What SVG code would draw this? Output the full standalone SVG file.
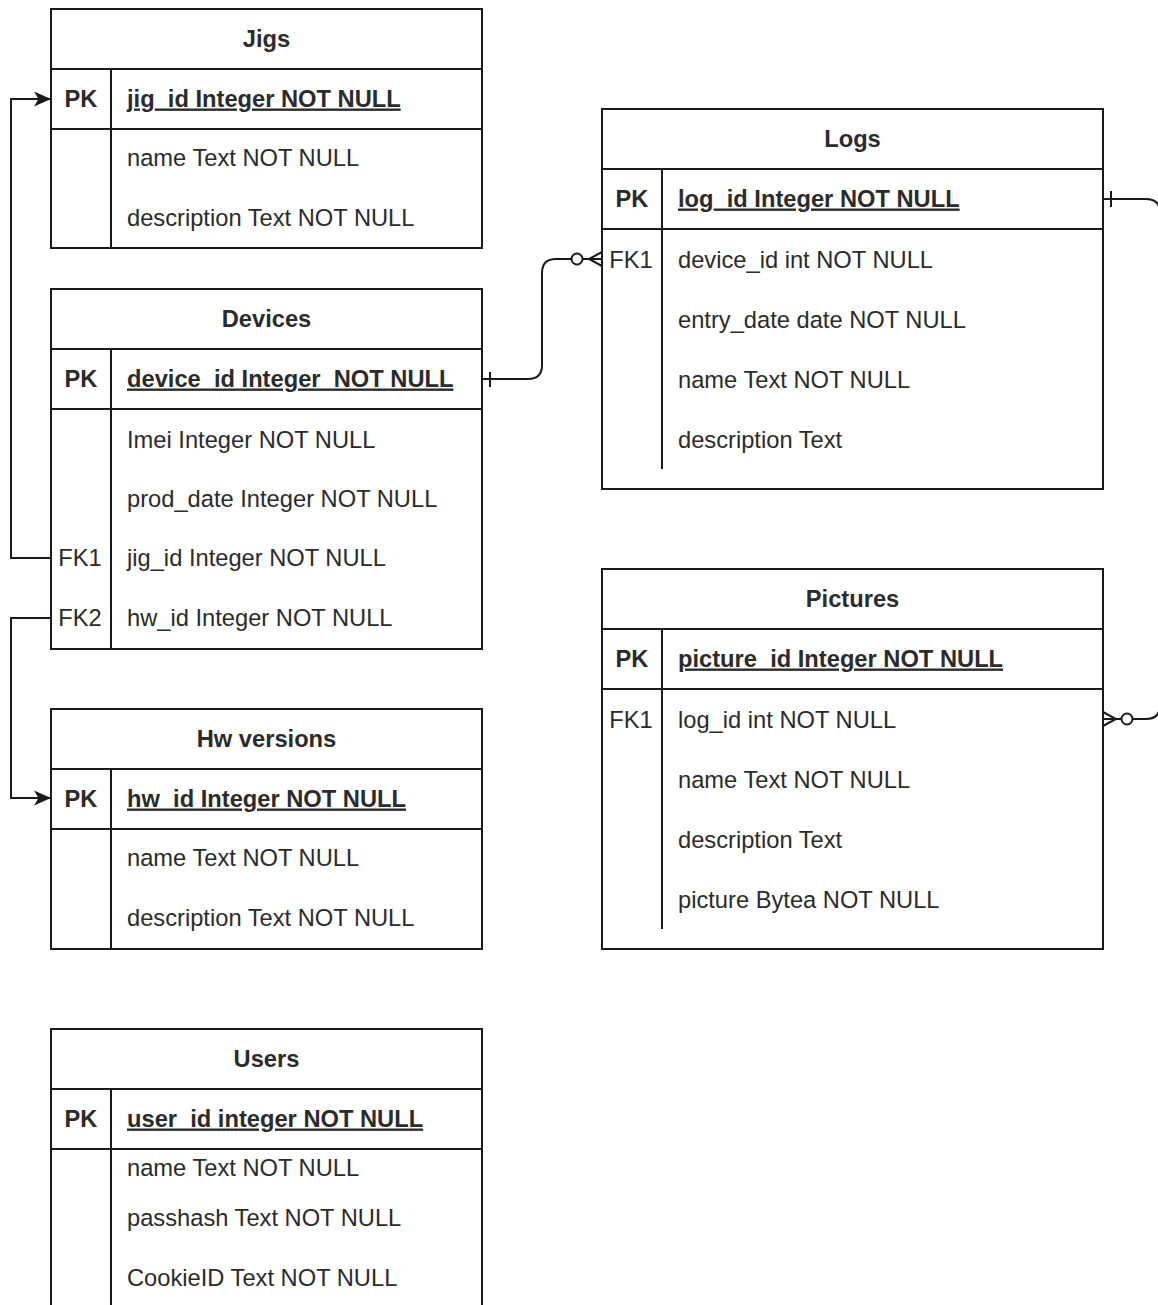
<svg xmlns="http://www.w3.org/2000/svg" width="1158" height="1305" viewBox="0 0 1158 1305">
<style>
.box{fill:#fff;stroke:#1a1a1a;stroke-width:2}
.ln{stroke:#1a1a1a;stroke-width:2;fill:none}
text{font-family:"Liberation Sans",Arial,sans-serif;font-size:23.7px;fill:#2b2b2b}
.t{font-weight:bold;text-anchor:middle}
.k{font-weight:bold;text-anchor:middle}
.f{font-weight:normal;text-anchor:middle}
.pk{font-weight:bold;text-decoration:underline}
.c{stroke:#1a1a1a;stroke-width:2;fill:none}
</style>
<defs>
<marker id="arr" markerUnits="userSpaceOnUse" markerWidth="20" markerHeight="18" viewBox="-18 -9 20 18" refX="0" refY="0" orient="auto">
<path d="M0,0 L-17,-7.5 L-12.5,0 L-17,7.5 Z" fill="#1a1a1a"/>
</marker>
</defs>
<rect width="1158" height="1305" fill="#fff"/>

<g id="jigs">
<rect class="box" x="51" y="9" width="431" height="239"/>
<path class="ln" d="M51 69H482M51 129H482M111 69V248"/>
<text class="t" x="266.5" y="46.5">Jigs</text>
<text class="k" x="81" y="106.5">PK</text>
<text class="pk" x="127" y="106.5">jig_id Integer NOT NULL</text>
<text x="127" y="165.5">name Text NOT NULL</text>
<text x="127" y="225.5">description Text NOT NULL</text>
</g>

<g id="devices">
<rect class="box" x="51" y="289" width="431" height="360"/>
<path class="ln" d="M51 349H482M51 409H482M111 349V649"/>
<text class="t" x="266.5" y="326.5">Devices</text>
<text class="k" x="81" y="386.5">PK</text>
<text class="pk" x="127" y="386.5" xml:space="preserve">device_id Integer  NOT NULL</text>
<text x="127" y="447.5">Imei Integer NOT NULL</text>
<text x="127" y="506.5">prod_date Integer NOT NULL</text>
<text class="f" x="80" y="565.5">FK1</text>
<text x="127" y="565.5">jig_id Integer NOT NULL</text>
<text class="f" x="80" y="625.5">FK2</text>
<text x="127" y="625.5">hw_id Integer NOT NULL</text>
</g>

<g id="hw_versions">
<rect class="box" x="51" y="709" width="431" height="240"/>
<path class="ln" d="M51 769H482M51 829H482M111 769V949"/>
<text class="t" x="266.5" y="746.5">Hw versions</text>
<text class="k" x="81" y="806.5">PK</text>
<text class="pk" x="127" y="806.5">hw_id Integer NOT NULL</text>
<text x="127" y="865.5">name Text NOT NULL</text>
<text x="127" y="925.5">description Text NOT NULL</text>
</g>

<g id="users">
<rect class="box" x="51" y="1029" width="431" height="300"/>
<path class="ln" d="M51 1089H482M51 1149H482M111 1089V1329"/>
<text class="t" x="266.5" y="1066.5">Users</text>
<text class="k" x="81" y="1126.5">PK</text>
<text class="pk" x="127" y="1126.5">user_id integer NOT NULL</text>
<text x="127" y="1175.5">name Text NOT NULL</text>
<text x="127" y="1225.5">passhash Text NOT NULL</text>
<text x="127" y="1285.5">CookieID Text NOT NULL</text>
</g>

<g id="logs">
<rect class="box" x="602" y="109" width="501" height="380"/>
<path class="ln" d="M602 169H1103M602 229H1103M662 169V469"/>
<text class="t" x="852.5" y="146.5">Logs</text>
<text class="k" x="632" y="206.5">PK</text>
<text class="pk" x="678" y="206.5">log_id Integer NOT NULL</text>
<text class="f" x="631" y="267.5">FK1</text>
<text x="678" y="267.5">device_id int NOT NULL</text>
<text x="678" y="327.5">entry_date date NOT NULL</text>
<text x="678" y="387.5">name Text NOT NULL</text>
<text x="678" y="447.5">description Text</text>
</g>

<g id="pictures">
<rect class="box" x="602" y="569" width="501" height="380"/>
<path class="ln" d="M602 629H1103M602 689H1103M662 629V929"/>
<text class="t" x="852.5" y="606.5">Pictures</text>
<text class="k" x="632" y="666.5">PK</text>
<text class="pk" x="678" y="666.5">picture_id Integer NOT NULL</text>
<text class="f" x="631" y="727.5">FK1</text>
<text x="678" y="727.5">log_id int NOT NULL</text>
<text x="678" y="787.5">name Text NOT NULL</text>
<text x="678" y="847.5">description Text</text>
<text x="678" y="907.5">picture Bytea NOT NULL</text>
</g>

<g id="connectors">
<path class="c" d="M51 558H11V99H51" marker-end="url(#arr)"/>
<path class="c" d="M51 618H11V798H51" marker-end="url(#arr)"/>
<path class="c" d="M482 379H528Q542 379 542 365V273Q542 259 556 259H571.5"/>
<path class="c" d="M490 372V387"/>
<circle class="c" cx="577" cy="259" r="5.5" fill="#fff"/>
<path class="c" d="M582.5 259H602M602 252L589 259L602 266"/>
<path class="c" d="M1103 199H1146Q1160 199 1160 213V705Q1160 719 1146 719H1132.5"/>
<path class="c" d="M1111 191V207"/>
<circle class="c" cx="1127" cy="719" r="5.5" fill="#fff"/>
<path class="c" d="M1121.5 719H1103M1103 712L1116 719L1103 726"/>
</g>
</svg>
